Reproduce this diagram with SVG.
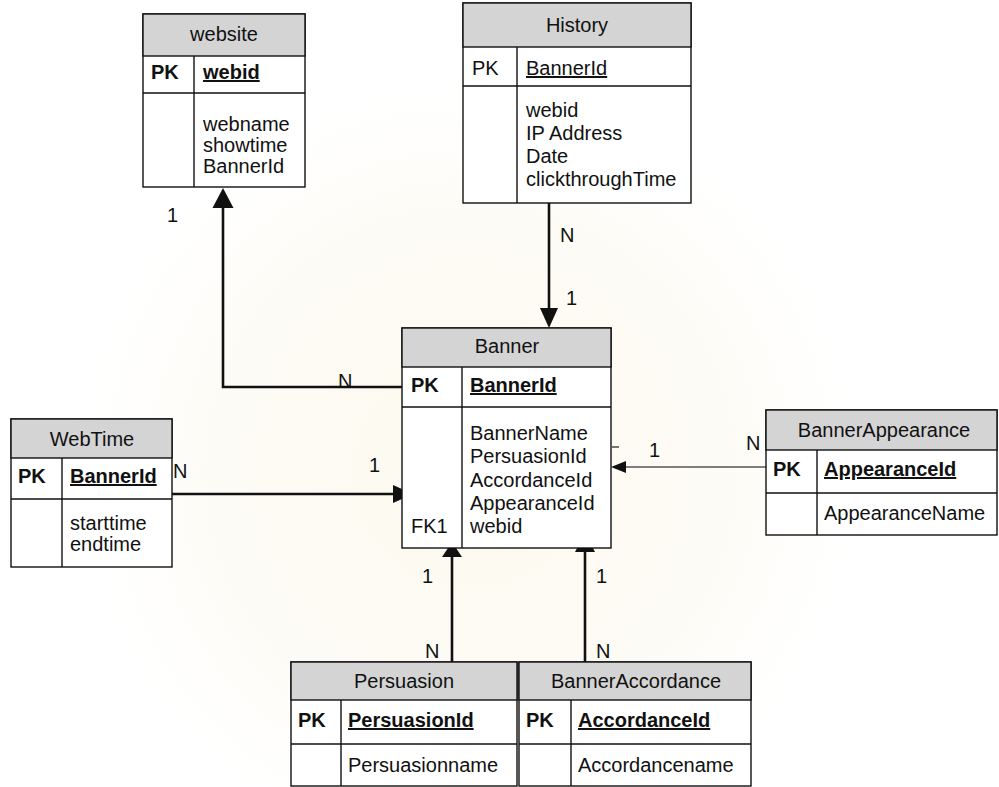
<svg xmlns="http://www.w3.org/2000/svg" width="999" height="787" viewBox="0 0 999 787">
  <style>
    text { font-family: "Liberation Sans", Arial, sans-serif; font-size: 20px; fill: #111; }
    .hdr { fill: #d4d4d4; stroke: #111; stroke-width: 1.4; }
    .box { fill: #fff; stroke: #111; stroke-width: 1.4; }
    .sep { stroke: #111; stroke-width: 1.4; fill: none; }
    .c { text-anchor: middle; }
    .b { font-weight: bold; }
    .u { text-decoration: underline; }
    .wire { stroke: #111; stroke-width: 2.6; fill: none; }
    .thin { stroke: #555; stroke-width: 1.6; fill: none; }
    .head { fill: #111; }
  </style>
  <defs>
    <radialGradient id="glow" cx="470" cy="470" r="430" gradientUnits="userSpaceOnUse">
      <stop offset="0" stop-color="#f7edd0" stop-opacity="0.35"/>
      <stop offset="0.6" stop-color="#f9f1da" stop-opacity="0.25"/>
      <stop offset="1" stop-color="#ffffff" stop-opacity="0"/>
    </radialGradient>
  </defs>
  <rect width="999" height="787" fill="#fff"/>
  <rect width="999" height="787" fill="url(#glow)"/>

  <!-- relationship lines -->
  <g id="connectors">
    <polyline class="wire" points="402,387 223,387 223,205"/>
    <polygon class="head" points="223,188 212.5,208 233.5,208"/>
    <line class="wire" x1="549" y1="203" x2="549" y2="312"/>
    <polygon class="head" points="549,328 540,308 558,308"/>
    <line class="wire" x1="172" y1="494" x2="395" y2="494"/>
    <polygon class="head" points="413,494 393,485 393,503"/>
    <line class="thin" x1="766" y1="467" x2="622" y2="467"/>
    <polygon class="head" points="611,467 626,461 626,473"/>
    <line class="thin" x1="612" y1="447" x2="619" y2="447"/>
    <line class="wire" x1="452" y1="662" x2="452" y2="555"/>
    <polygon class="head" points="452,542 442,557 462,557"/>
    <line class="wire" x1="585" y1="662" x2="585" y2="550"/>
    <polygon class="head" points="585,533 575,552 595,552"/>
    <text x="167" y="222">1</text>
    <text x="338" y="388">N</text>
    <text x="560" y="242">N</text>
    <text x="566" y="305">1</text>
    <text x="173" y="478">N</text>
    <text x="369" y="472">1</text>
    <text x="649" y="457">1</text>
    <text x="746" y="450">N</text>
    <text x="422" y="583">1</text>
    <text x="425" y="658">N</text>
    <text x="596" y="583">1</text>
    <text x="596" y="658">N</text>
  </g>

  <g id="website">
    <rect class="box" x="143" y="14" width="162" height="173"/>
    <rect class="hdr" x="143" y="14" width="162" height="42"/>
    <line class="sep" x1="143" y1="93" x2="305" y2="93"/>
    <line class="sep" x1="194" y1="56" x2="194" y2="187"/>
    <text class="c" x="224" y="41">website</text>
    <text class="b" x="151" y="79">PK</text>
    <text class="b u" x="203" y="79">webid</text>
    <text x="203" y="131">webname</text>
    <text x="203" y="152">showtime</text>
    <text x="203" y="173">BannerId</text>
  </g>

  <g id="History">
    <rect class="box" x="463" y="3" width="228" height="200"/>
    <rect class="hdr" x="463" y="3" width="228" height="44"/>
    <line class="sep" x1="463" y1="86" x2="691" y2="86"/>
    <line class="sep" x1="517" y1="47" x2="517" y2="203"/>
    <text class="c" x="577" y="32">History</text>
    <text x="472" y="75">PK</text>
    <text class="u" x="526" y="75">BannerId</text>
    <text x="526" y="117">webid</text>
    <text x="526" y="140">IP Address</text>
    <text x="526" y="163">Date</text>
    <text x="526" y="186">clickthroughTime</text>
  </g>

  <g id="Banner">
    <rect class="box" x="402" y="328" width="209" height="220"/>
    <rect class="hdr" x="402" y="328" width="209" height="39"/>
    <line class="sep" x1="402" y1="407" x2="611" y2="407"/>
    <line class="sep" x1="462" y1="367" x2="462" y2="548"/>
    <text class="c" x="507" y="353">Banner</text>
    <text class="b" x="411" y="392">PK</text>
    <text class="b u" x="470" y="392">BannerId</text>
    <text x="470" y="440">BannerName</text>
    <text x="470" y="463">PersuasionId</text>
    <text x="470" y="487">AccordanceId</text>
    <text x="470" y="510">AppearanceId</text>
    <text x="411" y="533">FK1</text>
    <text x="470" y="533">webid</text>
  </g>

  <g id="WebTime">
    <rect class="box" x="11" y="419" width="161" height="148"/>
    <rect class="hdr" x="11" y="419" width="161" height="39"/>
    <line class="sep" x1="11" y1="499" x2="172" y2="499"/>
    <line class="sep" x1="62" y1="458" x2="62" y2="567"/>
    <text class="c" x="92" y="446">WebTime</text>
    <text class="b" x="18" y="483">PK</text>
    <text class="b u" x="70" y="483">BannerId</text>
    <text x="70" y="530">starttime</text>
    <text x="70" y="551">endtime</text>
  </g>

  <g id="BannerAppearance">
    <rect class="box" x="766" y="410" width="231" height="125"/>
    <rect class="hdr" x="766" y="410" width="231" height="40"/>
    <line class="sep" x1="766" y1="493" x2="997" y2="493"/>
    <line class="sep" x1="817" y1="450" x2="817" y2="535"/>
    <text class="c" x="884" y="437">BannerAppearance</text>
    <text class="b" x="773" y="476">PK</text>
    <text class="b u" x="824" y="476">AppearanceId</text>
    <text x="824" y="520">AppearanceName</text>
  </g>

  <g id="Persuasion">
    <rect class="box" x="291" y="662" width="226" height="124"/>
    <rect class="hdr" x="291" y="662" width="226" height="38"/>
    <line class="sep" x1="291" y1="744" x2="517" y2="744"/>
    <line class="sep" x1="341" y1="700" x2="341" y2="786"/>
    <text class="c" x="404" y="688">Persuasion</text>
    <text class="b" x="298" y="727">PK</text>
    <text class="b u" x="348" y="727">PersuasionId</text>
    <text x="348" y="772">Persuasionname</text>
  </g>

  <g id="BannerAccordance">
    <rect class="box" x="519" y="662" width="232" height="124"/>
    <rect class="hdr" x="519" y="662" width="232" height="38"/>
    <line class="sep" x1="519" y1="744" x2="751" y2="744"/>
    <line class="sep" x1="571" y1="700" x2="571" y2="786"/>
    <text class="c" x="636" y="688">BannerAccordance</text>
    <text class="b" x="526" y="727">PK</text>
    <text class="b u" x="578" y="727">AccordanceId</text>
    <text x="578" y="772">Accordancename</text>
  </g>
</svg>
